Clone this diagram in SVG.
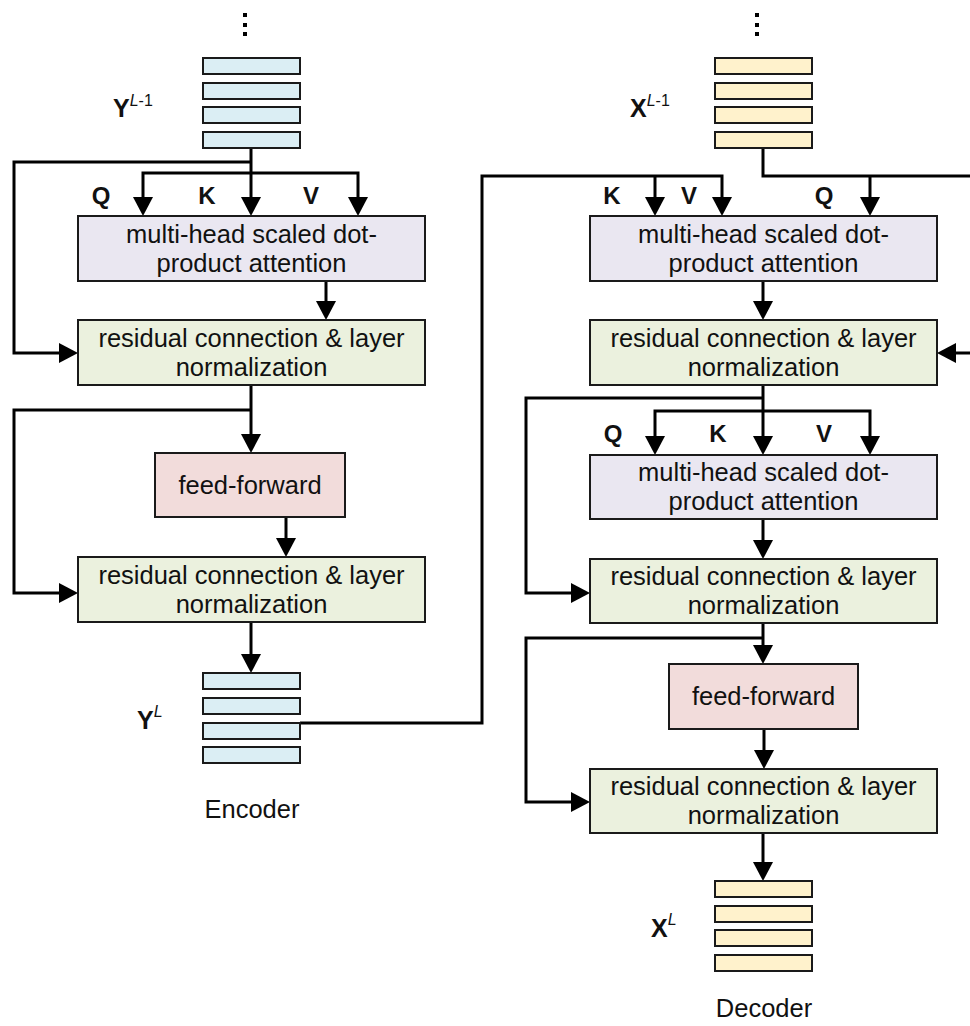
<svg xmlns="http://www.w3.org/2000/svg" width="970" height="1026" viewBox="0 0 970 1026">
<style>
.box{stroke:#1a1a1a;stroke-width:2}
.mha{fill:#EAE7F1}
.res{fill:#EBF1DE}
.ff{fill:#F2DCDB}
.sy{fill:#DBEEF4}
.sx{fill:#FFF2CC}
.t{font-family:"Liberation Sans",Arial,sans-serif;font-size:25.5px;fill:#111;text-anchor:middle}
.lb{font-family:"Liberation Sans",Arial,sans-serif;font-size:24px;font-weight:bold;fill:#111;text-anchor:middle}
.vl{font-family:"Liberation Sans",Arial,sans-serif;font-size:25px;font-weight:bold;fill:#111}
.sp{font-family:"Liberation Sans",Arial,sans-serif;font-size:16px;font-weight:normal}
.cn{fill:none;stroke:#000;stroke-width:3}
.ar{marker-end:url(#ah)}
</style>
<defs>
<marker id="ah" markerUnits="userSpaceOnUse" markerWidth="22" markerHeight="22" viewBox="0 0 22 22" refX="9" refY="10" orient="auto">
<path d="M0,0 L19,10 L0,20 z" fill="#000"/>
</marker>
</defs>

<g id="connectors">
<!-- encoder -->
<path class="cn ar" d="M251,148 V206"/>
<path class="cn ar" d="M251,162 H14 V353 H68"/>
<path class="cn ar" d="M251,173 H143 V206"/>
<path class="cn ar" d="M251,173 H358 V206"/>
<path class="cn ar" d="M326,281 V310"/>
<path class="cn ar" d="M251,385 V443"/>
<path class="cn ar" d="M251,410 H14 V593 H68"/>
<path class="cn ar" d="M286,517 V547"/>
<path class="cn ar" d="M251,622 V663"/>
<!-- encoder to decoder -->
<path class="cn ar" d="M300,723 H482 V176 H722 V206"/>
<path class="cn ar" d="M655,176 V206"/>
<!-- decoder -->
<path class="cn ar" d="M763,148 V176 H976 V353 H947"/>
<path class="cn ar" d="M870,176 V206"/>
<path class="cn ar" d="M763,281 V310"/>
<path class="cn ar" d="M763,385 V445"/>
<path class="cn ar" d="M763,398 H526 V593 H580"/>
<path class="cn ar" d="M763,411 H655 V445"/>
<path class="cn ar" d="M763,411 H870 V445"/>
<path class="cn ar" d="M763,519 V549"/>
<path class="cn ar" d="M763,623 V654"/>
<path class="cn ar" d="M763,638 H526 V802 H580"/>
<path class="cn ar" d="M764,729 V759"/>
<path class="cn ar" d="M763,833 V871"/>
</g>

<!-- Encoder -->
<g id="enc-dots">
<rect x="243" y="13" width="4" height="4"/>
<rect x="243" y="23" width="4" height="4"/>
<rect x="243" y="32" width="4" height="4"/>
</g>
<g id="enc-input">
<rect class="box sy" x="203" y="58" width="97" height="16"/>
<rect class="box sy" x="203" y="83" width="97" height="16"/>
<rect class="box sy" x="203" y="107" width="97" height="16"/>
<rect class="box sy" x="203" y="132" width="97" height="16"/>
<text class="vl" x="113" y="117">Y<tspan class="sp" dy="-11"><tspan font-style="italic">L</tspan>-1</tspan></text>
</g>
<g id="enc-qkv">
<text class="lb" x="101" y="204">Q</text>
<text class="lb" x="207" y="204">K</text>
<text class="lb" x="311" y="204">V</text>
</g>
<g id="enc-mha">
<rect class="box mha" x="78" y="216" width="347" height="65"/>
<text class="t" x="251.5" y="243">multi-head scaled dot-</text>
<text class="t" x="251.5" y="272">product attention</text>
</g>
<g id="enc-res1">
<rect class="box res" x="78" y="320" width="347" height="65"/>
<text class="t" x="251.5" y="347">residual connection &amp; layer</text>
<text class="t" x="251.5" y="376">normalization</text>
</g>
<g id="enc-ff">
<rect class="box ff" x="155" y="453" width="190" height="64"/>
<text class="t" x="250" y="494">feed-forward</text>
</g>
<g id="enc-res2">
<rect class="box res" x="78" y="557" width="347" height="65"/>
<text class="t" x="251.5" y="584">residual connection &amp; layer</text>
<text class="t" x="251.5" y="613">normalization</text>
</g>
<g id="enc-output">
<rect class="box sy" x="203" y="673" width="97" height="16"/>
<rect class="box sy" x="203" y="698" width="97" height="16"/>
<rect class="box sy" x="203" y="723" width="97" height="16"/>
<rect class="box sy" x="203" y="747" width="97" height="16"/>
<text class="vl" x="137" y="729">Y<tspan class="sp" dy="-12" font-style="italic">L</tspan></text>
</g>
<g id="enc-label">
<text class="t" x="252" y="818" font-size="26">Encoder</text>
</g>

<!-- Decoder -->
<g id="dec-dots">
<rect x="755" y="13" width="4" height="4"/>
<rect x="755" y="23" width="4" height="4"/>
<rect x="755" y="32" width="4" height="4"/>
</g>
<g id="dec-input">
<rect class="box sx" x="715" y="58" width="97" height="16"/>
<rect class="box sx" x="715" y="83" width="97" height="16"/>
<rect class="box sx" x="715" y="107" width="97" height="16"/>
<rect class="box sx" x="715" y="132" width="97" height="16"/>
<text class="vl" x="630" y="117">X<tspan class="sp" dy="-11"><tspan font-style="italic">L</tspan>-1</tspan></text>
</g>
<g id="dec-kvq1">
<text class="lb" x="612" y="204">K</text>
<text class="lb" x="689" y="204">V</text>
<text class="lb" x="824" y="204">Q</text>
</g>
<g id="dec-mha1">
<rect class="box mha" x="590" y="216" width="347" height="65"/>
<text class="t" x="763.5" y="243">multi-head scaled dot-</text>
<text class="t" x="763.5" y="272">product attention</text>
</g>
<g id="dec-res1">
<rect class="box res" x="590" y="320" width="347" height="65"/>
<text class="t" x="763.5" y="347">residual connection &amp; layer</text>
<text class="t" x="763.5" y="376">normalization</text>
</g>
<g id="dec-qkv2">
<text class="lb" x="613" y="442">Q</text>
<text class="lb" x="718" y="442">K</text>
<text class="lb" x="824" y="442">V</text>
</g>
<g id="dec-mha2">
<rect class="box mha" x="590" y="455" width="347" height="64"/>
<text class="t" x="763.5" y="481">multi-head scaled dot-</text>
<text class="t" x="763.5" y="510">product attention</text>
</g>
<g id="dec-res2">
<rect class="box res" x="590" y="559" width="347" height="64"/>
<text class="t" x="763.5" y="585">residual connection &amp; layer</text>
<text class="t" x="763.5" y="614">normalization</text>
</g>
<g id="dec-ff">
<rect class="box ff" x="669" y="664" width="189" height="65"/>
<text class="t" x="763.5" y="705">feed-forward</text>
</g>
<g id="dec-res3">
<rect class="box res" x="590" y="769" width="347" height="64"/>
<text class="t" x="763.5" y="795">residual connection &amp; layer</text>
<text class="t" x="763.5" y="824">normalization</text>
</g>
<g id="dec-output">
<rect class="box sx" x="715" y="881" width="97" height="16"/>
<rect class="box sx" x="715" y="906" width="97" height="16"/>
<rect class="box sx" x="715" y="930" width="97" height="16"/>
<rect class="box sx" x="715" y="955" width="97" height="16"/>
<text class="vl" x="651" y="937">X<tspan class="sp" dy="-12" font-style="italic">L</tspan></text>
</g>
<g id="dec-label">
<text class="t" x="764" y="1017" font-size="26">Decoder</text>
</g>
</svg>
